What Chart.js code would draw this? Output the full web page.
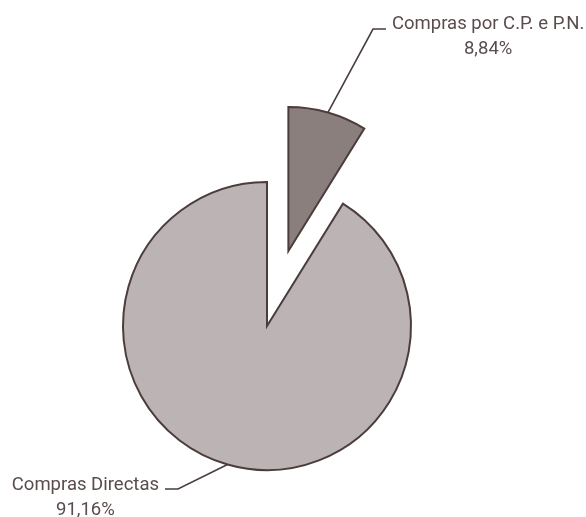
<!DOCTYPE html>
<html>
<head>
<meta charset="utf-8">
<script src="https://cdn.jsdelivr.net/npm/chart.js@4.4.1/dist/chart.umd.min.js"></script>
<style>
  html, body { margin: 0; padding: 0; background: #ffffff; }
  #wrap { width: 586px; height: 517px; position: relative; }
</style>
</head>
<body>
<div id="wrap"><canvas id="comprasChart"></canvas></div>
<script>
// categorias e quotas (%)
var categories = ['Compras por C.P. e P.N.', 'Compras Directas'];
var shares = [8.84, 91.16];
var sliceColors = ['#8b7f7d', '#bcb4b4'];
var sliceExplode = [78, 0];   // afastamento de cada fatia do centro, px

var PIE_RADIUS = 144;
var TEXT_COLOR = '#5a4c4c';
var LINE_COLOR = '#4b3d3d';
var LABEL_FONT = '18.5px Roboto';

// posição dos rótulos: cotovelo da linha de chamada e lado do texto
var labelLayout = [
    { elbowX: 373, elbowY: 29, side: 1, line1: 29, line2: 54 },
    { elbowX: 178, elbowY: 489, side: -1, line1: 490, line2: 515 }
];

function formatShare(v) {
    return v.toFixed(2).replace('.', ',') + '%';
}

// desloca as fatias destacadas ao longo da bissectriz, sem alterar o raio
var explodeSlices = {
    id: 'explodeSlices',
    beforeDatasetsDraw: function(chart) {
        var ca = chart.chartArea;
        var cx = (ca.left + ca.right) / 2;
        var cy = (ca.top + ca.bottom) / 2;
        chart.getDatasetMeta(0).data.forEach(function(arc, i) {
            var mid = (arc.startAngle + arc.endAngle) / 2;
            arc.x = cx + Math.cos(mid) * sliceExplode[i];
            arc.y = cy + Math.sin(mid) * sliceExplode[i];
        });
    }
};

// linhas de chamada e textos das fatias
var sliceLabels = {
    id: 'sliceLabels',
    afterDatasetsDraw: function(chart) {
        var ctx = chart.ctx;
        var meta = chart.getDatasetMeta(0);
        ctx.save();
        meta.data.forEach(function(arc, i) {
            var lay = labelLayout[i];
            var mid = (arc.startAngle + arc.endAngle) / 2;
            var R = arc.outerRadius;
            var ax = arc.x + Math.cos(mid) * R;
            var ay = arc.y + Math.sin(mid) * R;
            var tickEnd = lay.elbowX + lay.side * 13;

            ctx.strokeStyle = LINE_COLOR;
            ctx.lineWidth = 1.6;
            ctx.beginPath();
            ctx.moveTo(ax, ay);
            ctx.lineTo(lay.elbowX, lay.elbowY);
            ctx.lineTo(tickEnd, lay.elbowY);
            ctx.stroke();

            ctx.font = LABEL_FONT;
            ctx.fillStyle = TEXT_COLOR;
            ctx.textAlign = 'center';
            ctx.textBaseline = 'alphabetic';
            var t1 = categories[i];
            var t2 = formatShare(shares[i]);
            var w = Math.max(ctx.measureText(t1).width, ctx.measureText(t2).width);
            var cx = lay.side > 0 ? tickEnd + 6 + w / 2 : tickEnd - 6 - w / 2;
            ctx.fillText(t1, cx, lay.line1);
            ctx.fillText(t2, cx, lay.line2);
        });
        ctx.restore();
    }
};

var ctx = document.getElementById('comprasChart').getContext('2d');
var comprasChart = new Chart(ctx, {
    type: 'pie',
    data: {
        labels: categories,
        datasets: [{
            data: shares,
            backgroundColor: sliceColors,
            borderColor: LINE_COLOR,
            borderWidth: 2,
            borderJoinStyle: 'miter'
        }]
    },
    options: {
        responsive: true,
        maintainAspectRatio: false,
        animation: false,
        events: [],
        radius: PIE_RADIUS,
        layout: { padding: { left: 0, right: 52, top: 135, bottom: 0 } },
        plugins: {
            legend: { display: false },
            tooltip: { enabled: false }
        }
    },
    plugins: [explodeSlices, sliceLabels]
});
</script>
</body>
</html>
